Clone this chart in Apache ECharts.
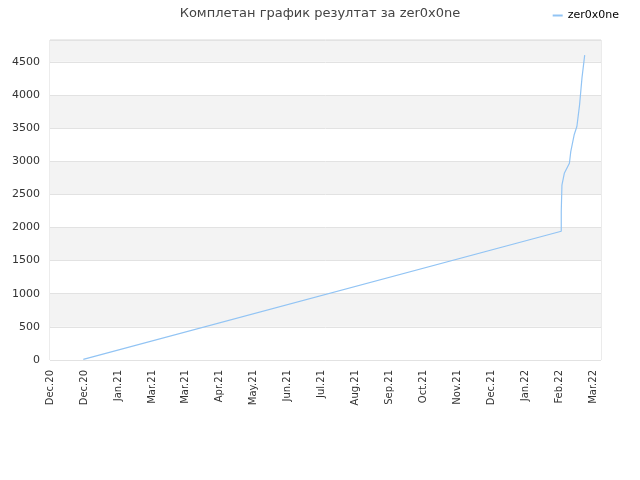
<!DOCTYPE html>
<html lang="sr">
<head>
    <meta charset="UTF-8">
    <title>chart</title>
    <script src="https://cdn.jsdelivr.net/npm/echarts@6/dist/echarts.min.js"></script>
</head>
<body style="margin:0">
<div id="container" style="width:640px;height:480px"></div>
<script type="text/javascript">
    // tick labels along x (one per tick, ticks evenly spaced)
    var xLabels = ['Dec.20', 'Dec.20', 'Jan.21', 'Mar.21', 'Mar.21', 'Apr.21', 'May.21', 'Jun.21',
        'Jul.21', 'Aug.21', 'Sep.21', 'Oct.21', 'Nov.21', 'Dec.21', 'Jan.22', 'Feb.22', 'Mar.22'];
    // point positions, in tick units (0 = first tick)
    var xPos = [0.98, 15.05, 15.05, 15.07, 15.14, 15.29, 15.33, 15.43, 15.51, 15.59, 15.66, 15.74];
    // score
    var scores = [10, 1944, 2237, 2641, 2818, 2970, 3146, 3399, 3525, 3854, 4258, 4601];

    var seriesName = 'zer0x0ne';
    var titleText = 'Комплетан график резултат за zer0x0ne';
    var lineColor = '#92c4f4';
    var textColor = '#333';
    var gridColor = '#e2e2e2';

    var chart = echarts.init(document.getElementById('container'));

    chart.setOption({
        animation: false,
        title: {
            text: titleText,
            left: 'center',
            top: 2,
            textStyle: {
                fontFamily: 'DejaVu Sans',
                fontSize: 13,
                fontWeight: 'normal',
                color: '#444'
            }
        },
        legend: {
            right: 16,
            top: 5,
            itemWidth: 10,
            itemHeight: 2,
            itemGap: 8,
            data: [{name: seriesName, icon: 'rect'}],
            textStyle: {
                fontFamily: 'DejaVu Sans',
                fontSize: 11,
                color: '#000'
            }
        },
        grid: {
            left: 50,
            right: 39,
            top: 40,
            bottom: 120,
            show: true,
            borderColor: '#d8d8d8',
            borderWidth: 1,
            backgroundColor: 'transparent'
        },
        xAxis: {
            type: 'value',
            min: 0,
            max: 16.22,
            interval: 1,
            axisLine: {show: false},
            axisTick: {show: false},
            splitLine: {show: false},
            axisLabel: {
                rotate: 90,
                showMaxLabel: false,
                margin: 10,
                fontFamily: 'DejaVu Sans',
                fontSize: 10,
                color: textColor,
                formatter: function (v) {
                    var i = Math.round(v);
                    return Math.abs(v - i) < 0.01 && xLabels[i] ? xLabels[i] : '';
                }
            }
        },
        yAxis: {
            type: 'value',
            min: 0,
            max: 4830,
            interval: 500,
            axisLine: {show: false},
            axisTick: {show: false},
            axisLabel: {
                showMaxLabel: false,
                margin: 10,
                fontFamily: 'DejaVu Sans',
                fontSize: 11,
                color: textColor,
                formatter: function (v) {
                    return String(v);
                }
            },
            splitLine: {
                lineStyle: {color: gridColor, width: 1}
            },
            splitArea: {
                show: true,
                areaStyle: {color: ['#ffffff', '#f3f3f3']}
            }
        },
        series: [{
            type: 'line',
            name: seriesName,
            data: xPos.map(function (x, i) {
                return [x, scores[i]];
            }),
            showSymbol: false,
            lineStyle: {color: lineColor, width: 1.2},
            itemStyle: {color: lineColor}
        }]
    });
</script>
</body>
</html>
